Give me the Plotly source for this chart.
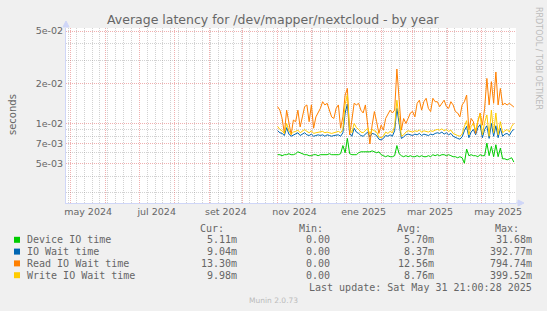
import plotly.graph_objects as go
import pandas as pd

# ---------------- data (seconds), one point every 2 days from 2024-11-01 ----------------
START = "2024-11-01"
STEP = "2D"

device_io = [0.0058, 0.0058, 0.0057, 0.0058, 0.0058, 0.0059, 0.0058, 0.0058, 0.0059, 0.0061,
             0.0060, 0.0059, 0.0058, 0.0058, 0.0057, 0.0057, 0.0058, 0.0058, 0.0057, 0.0058,
             0.0058, 0.0058, 0.0058, 0.0059, 0.0058, 0.0058, 0.0058, 0.0058, 0.0059, 0.0068,
             0.0060, 0.0077, 0.0059, 0.0058, 0.0058,
             0.0058, 0.0060, 0.0061, 0.0061, 0.0061, 0.0061, 0.0061, 0.0062, 0.0061, 0.0060,
             0.0061, 0.0058, 0.0057, 0.0056, 0.0057, 0.0056, 0.0056, 0.0057, 0.0068, 0.0059,
             0.0057, 0.0056, 0.0057, 0.0056, 0.0057, 0.0056, 0.0056, 0.0057, 0.0056, 0.0057,
             0.0056, 0.0056, 0.0057, 0.0056, 0.0058, 0.0057,
             0.0058, 0.0057, 0.0058, 0.0058, 0.0057, 0.0058, 0.0057, 0.0056, 0.0056, 0.0055,
             0.0056, 0.0055, 0.0050, 0.0064, 0.0057, 0.0058, 0.0057, 0.0057, 0.0056, 0.0058,
             0.0057, 0.0057, 0.0071, 0.0057, 0.0067, 0.0056, 0.0069, 0.0056, 0.0065, 0.0054,
             0.0054, 0.0053, 0.0054, 0.0055, 0.0051]

io_wait = [0.0088, 0.0085, 0.0084, 0.0081, 0.0093, 0.0083, 0.0080, 0.0082, 0.0083, 0.0085,
           0.0081, 0.0083, 0.0085, 0.0082, 0.0081, 0.0083, 0.0080, 0.0081, 0.0082, 0.0081,
           0.0082, 0.0080, 0.0082, 0.0081, 0.0080, 0.0081, 0.0082, 0.0082, 0.0080, 0.0085,
           0.0120, 0.0140, 0.0084, 0.0080, 0.0092,
           0.0086, 0.0084, 0.0081, 0.0080, 0.0083, 0.0086, 0.0079, 0.0084, 0.0083, 0.0081,
           0.0076, 0.0075, 0.0077, 0.0081, 0.0080, 0.0082, 0.0080, 0.0088, 0.0130, 0.0098,
           0.0077, 0.0079, 0.0082, 0.0083, 0.0082, 0.0081, 0.0083, 0.0082, 0.0084, 0.0081,
           0.0083, 0.0082, 0.0081, 0.0083, 0.0082, 0.0084,
           0.0085, 0.0084, 0.0086, 0.0083, 0.0085, 0.0082, 0.0084, 0.0080, 0.0078, 0.0077,
           0.0076, 0.0079, 0.0088, 0.0095, 0.0078, 0.0086, 0.0090, 0.0082, 0.0093, 0.0098,
           0.0078, 0.0090, 0.0096, 0.0077, 0.0100, 0.0080, 0.0096, 0.0078, 0.0092, 0.0080,
           0.0083, 0.0084, 0.0081, 0.0087, 0.0090]

read_io = [0.0134, 0.0126, 0.0109, 0.0084, 0.0126, 0.0103, 0.0082, 0.0106, 0.0103, 0.0126,
           0.0094, 0.0112, 0.0134, 0.0138, 0.0103, 0.0138, 0.0092, 0.0112, 0.0120, 0.0130,
           0.0146, 0.0138, 0.0142, 0.0126, 0.0112, 0.0109, 0.0130, 0.0138, 0.0092, 0.0112,
           0.0164, 0.0184, 0.0082, 0.0106, 0.0142,
           0.0138, 0.0142, 0.0126, 0.0120, 0.0138, 0.0100, 0.0070, 0.0097, 0.0123, 0.0103,
           0.0084, 0.0097, 0.0089, 0.0109, 0.0116, 0.0126, 0.0120, 0.0126, 0.0258, 0.0138,
           0.0089, 0.0109, 0.0100, 0.0109, 0.0120, 0.0123, 0.0112, 0.0142, 0.0150, 0.0126,
           0.0146, 0.0155, 0.0130, 0.0123, 0.0155, 0.0146,
           0.0146, 0.0134, 0.0142, 0.0150, 0.0134, 0.0130, 0.0146, 0.0138, 0.0123, 0.0120,
           0.0112, 0.0138, 0.0146, 0.0164, 0.0089, 0.0109, 0.0103, 0.0084, 0.0103, 0.0120,
           0.0097, 0.0130, 0.0219, 0.0138, 0.0207, 0.0142, 0.0245, 0.0138, 0.0184, 0.0138,
           0.0142, 0.0138, 0.0142, 0.0138, 0.0133]

write_io = [0.0095, 0.0090, 0.0088, 0.0084, 0.0100, 0.0088, 0.0083, 0.0086, 0.0087, 0.0089,
            0.0085, 0.0088, 0.0090, 0.0087, 0.0085, 0.0088, 0.0084, 0.0085, 0.0086, 0.0086,
            0.0087, 0.0085, 0.0086, 0.0085, 0.0084, 0.0085, 0.0086, 0.0087, 0.0085, 0.0090,
            0.0140, 0.0165, 0.0090, 0.0085, 0.0100,
            0.0093, 0.0090, 0.0086, 0.0085, 0.0088, 0.0092, 0.0083, 0.0090, 0.0088, 0.0086,
            0.0079, 0.0078, 0.0080, 0.0086, 0.0084, 0.0087, 0.0085, 0.0095, 0.0150, 0.0110,
            0.0080, 0.0082, 0.0086, 0.0088, 0.0087, 0.0086, 0.0088, 0.0087, 0.0089, 0.0086,
            0.0088, 0.0087, 0.0086, 0.0088, 0.0087, 0.0089,
            0.0090, 0.0089, 0.0091, 0.0088, 0.0090, 0.0087, 0.0089, 0.0084, 0.0082, 0.0081,
            0.0080, 0.0083, 0.0095, 0.0105, 0.0082, 0.0095, 0.0100, 0.0088, 0.0105, 0.0118,
            0.0082, 0.0102, 0.0116, 0.0080, 0.0126, 0.0085, 0.0120, 0.0082, 0.0103, 0.0085,
            0.0088, 0.0090, 0.0086, 0.0095, 0.0100]

series_names = ["Device IO time", "IO Wait time", "Read IO Wait time", "Write IO Wait time"]
series_colors = ["#00CC00", "#0066B3", "#FF8000", "#FFCC00"]
series_values = [device_io, io_wait, read_io, write_io]
cur_vals = ["5.11m", "9.04m", "13.30m", "9.98m"]
min_vals = ["0.00", "0.00", "0.00", "0.00"]
avg_vals = ["5.70m", "8.37m", "12.56m", "8.76m"]
max_vals = ["31.68m", "392.77m", "794.74m", "399.52m"]

y_tick_vals = [5e-3, 7e-3, 1e-2, 2e-2, 5e-2]
y_tick_text = ["5e-03", "7e-03", "1e-02", "2e-02", "5e-02"]
y_minor_vals = [3e-3, 4e-3, 6e-3, 8e-3, 9e-3, 3e-2, 4e-2]
month_alias = {"May 2024": "may 2024", "Jul 2024": "jul 2024", "Sep 2024": "set 2024",
               "Nov 2024": "nov 2024", "Jan 2025": "ene 2025", "Mar 2025": "mar 2025",
               "May 2025": "may 2025"}

title_text = "Average latency for /dev/mapper/nextcloud - by year"
y_title = "seconds"
last_update = "Last update: Sat May 31 21:00:28 2025"
munin_ver = "Munin 2.0.73"
watermark = "RRDTOOL / TOBI OETIKER"

# ---------------- figure ----------------
W, H = 547, 311
L, R, T, B = 66, 516, 28, 203
FONT = "#666666"
AXIS = "#CFD6F8"
MGRID = "rgba(222,79,79,0.45)"
GRID = "rgba(143,143,143,0.4)"


def px(x):
    return (x - L) / (R - L)


def py(y):
    return (B - y) / (B - T)


n = len(device_io)
for s in series_values:
    assert len(s) == n
dates = pd.date_range(START, periods=n, freq=STEP)

fig = go.Figure()
for name, color, vals in zip(series_names, series_colors, series_values):
    fig.add_trace(go.Scatter(x=dates, y=vals, name=name, mode="lines",
                             line=dict(color=color, width=1), hoverinfo="skip"))

fig.update_layout(
    width=W, height=H,
    margin=dict(l=L, r=W - R, t=T, b=H - B),
    paper_bgcolor="#F0F0F0", plot_bgcolor="#FFFFFF",
    showlegend=False,
    font=dict(family="DejaVu Sans", color=FONT, size=10),
)

fig.update_xaxes(
    type="date",
    range=["2024-04-26 21:00", "2025-05-31 21:00"],
    tick0="2024-05-01", dtick="M1",
    ticklabelmode="period", ticklabelstep=2,
    tickformat="%b %Y", labelalias=month_alias,
    ticks="", tickfont=dict(size=9.5, color=FONT, family="DejaVu Sans"),
    showgrid=True, gridcolor=MGRID, griddash="1px,1px", gridwidth=1,
    minor=dict(dtick=7 * 86400000, tick0="2024-04-29", showgrid=True,
               gridcolor=GRID, griddash="1px,1px", gridwidth=1),
    showline=True, linecolor=AXIS, linewidth=1, zeroline=False,
)

fig.update_yaxes(
    type="log",
    range=[-2.602, -1.278],
    tickmode="array", tickvals=y_tick_vals, ticktext=y_tick_text,
    ticks="", tickfont=dict(size=9.5, color=FONT, family="DejaVu Sans"),
    showgrid=True, gridcolor=MGRID, griddash="1px,1px", gridwidth=1,
    minor=dict(tickmode="array", tickvals=y_minor_vals, showgrid=True,
               gridcolor=GRID, griddash="1px,1px", gridwidth=1),
    showline=True, linecolor=AXIS, linewidth=1, zeroline=False,
)

# arrows at the end of the axes
fig.add_shape(type="path", xref="paper", yref="paper",
              path=f"M {px(518)},{py(200)} L {px(524)},{py(203)} L {px(518)},{py(206)} Z",
              fillcolor=AXIS, line=dict(color=AXIS, width=1))
fig.add_shape(type="line", xref="paper", yref="paper", x0=px(516), x1=px(518), y0=py(203), y1=py(203),
              line=dict(color=AXIS, width=1))
fig.add_shape(type="path", xref="paper", yref="paper",
              path=f"M {px(63)},{py(27)} L {px(66)},{py(21)} L {px(69)},{py(27)} Z",
              fillcolor=AXIS, line=dict(color=AXIS, width=1))

annotations = []


def text(x, y, s, size=10, family="DejaVu Sans Mono", color=FONT, xanchor="left", angle=0):
    annotations.append(dict(x=px(x), y=py(y), xref="paper", yref="paper", text=s,
                            showarrow=False, xanchor=xanchor, yanchor="middle",
                            textangle=angle, borderpad=0,
                            font=dict(size=size, family=family, color=color)))


text(273, 19, title_text, size=12.5, family="DejaVu Sans", xanchor="center")
text(12, 115, y_title, size=10, family="DejaVu Sans", xanchor="center", angle=-90)
text(538, 58, watermark, size=8, family="DejaVu Sans", color="#BBBBBB", xanchor="center", angle=90)

header_y = 228
text(225, header_y, "Cur:", xanchor="right")
text(324, header_y, "Min:", xanchor="right")
text(422, header_y, "Avg:", xanchor="right")
text(520, header_y, "Max:", xanchor="right")

for i, (name, color) in enumerate(zip(series_names, series_colors)):
    yy = 239.8 + i * 11.8
    fig.add_shape(type="rect", xref="paper", yref="paper",
                  x0=px(14), x1=px(20), y0=py(yy + 3), y1=py(yy - 3),
                  fillcolor=color, line=dict(width=0))
    text(26, yy, name)
    text(238, yy, cur_vals[i], xanchor="right")
    text(331, yy, min_vals[i], xanchor="right")
    text(435, yy, avg_vals[i], xanchor="right")
    text(533, yy, max_vals[i], xanchor="right")

text(533, 287, last_update, xanchor="right")
text(273, 300, munin_ver, size=7.5, family="DejaVu Sans", color="#BBBBBB", xanchor="center")

fig.update_layout(annotations=annotations)
fig.write_html("out.html", config={"displayModeBar": False})
